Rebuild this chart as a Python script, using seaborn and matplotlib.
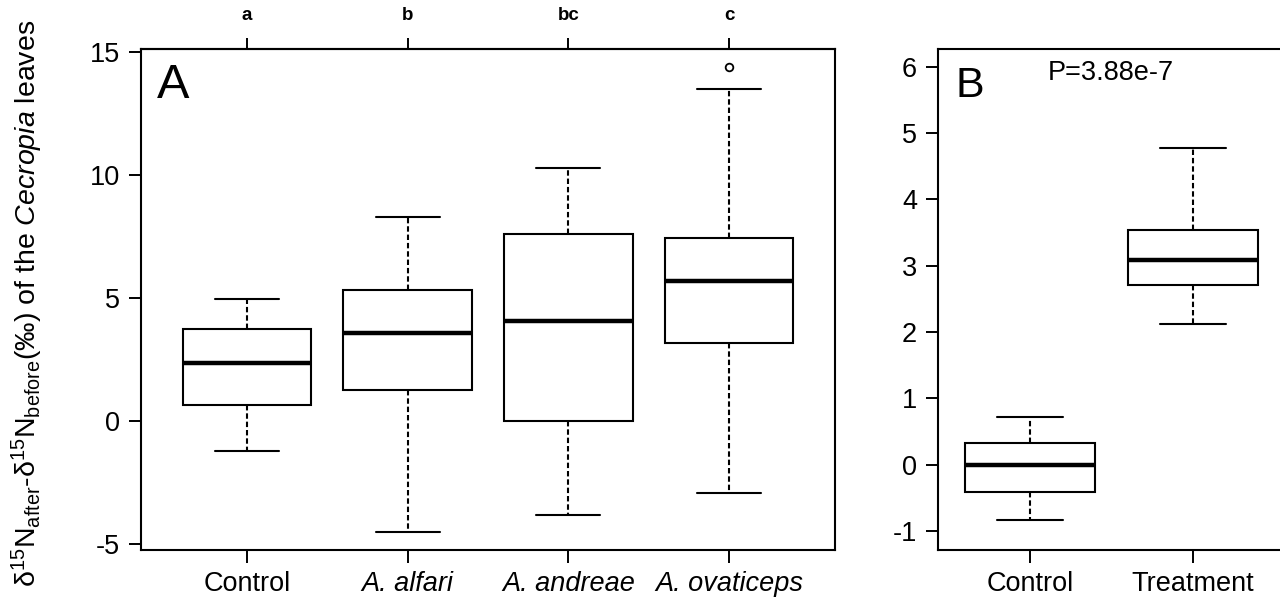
import pandas as pd
import matplotlib
matplotlib.use("Agg")
import matplotlib.pyplot as plt
import seaborn as sns

# panel A: five-number summaries
groups_a = ["Control", "A. alfari", "A. andreae", "A. ovaticeps"]
lower_a = [-1.22, -4.51, -3.82, -2.93]
q1_a = [0.65, 1.26, 0.00, 3.17]
median_a = [2.34, 3.58, 4.07, 5.69]
q3_a = [3.74, 5.33, 7.62, 7.44]
upper_a = [4.96, 8.29, 10.28, 13.50]
outliers_a = [[], [], [], [14.39]]
letters_a = ["a", "b", "bc", "c"]

# panel B
groups_b = ["Control", "Treatment"]
lower_b = [-0.83, 2.12]
q1_b = [-0.42, 2.71]
median_b = [0.00, 3.09]
q3_b = [0.32, 3.54]
upper_b = [0.72, 4.78]
outliers_b = [[], []]
p_text = "P=3.88e-7"

ylabel = (r"δ$^{15}$N$_{\mathrm{after}}$-δ$^{15}$N$_{\mathrm{before}}$(‰) "
          r"of the $\mathit{Cecropia}$ leaves")


def summary_frame(groups, lo, q1, med, q3, hi, outl):
    # points whose quartiles/whiskers reproduce the summary exactly
    rows = []
    for i, g in enumerate(groups):
        vals = [lo[i], q1[i], q1[i], med[i], med[i], q3[i], q3[i], hi[i]] + outl[i]
        rows += [(g, v) for v in vals]
    return pd.DataFrame(rows, columns=["group", "value"])


df_a = summary_frame(groups_a, lower_a, q1_a, median_a, q3_a, upper_a, outliers_a)
df_b = summary_frame(groups_b, lower_b, q1_b, median_b, q3_b, upper_b, outliers_b)

sns.set_style("ticks")
plt.rcParams["font.family"] = ["Liberation Sans", "DejaVu Sans"]
plt.rcParams["mathtext.fontset"] = "custom"
plt.rcParams["mathtext.rm"] = "Liberation Sans"
plt.rcParams["mathtext.it"] = "Liberation Sans:italic"
plt.rcParams["mathtext.bf"] = "Liberation Sans:bold"
plt.rcParams["axes.unicode_minus"] = False
for key in ["text.color", "axes.edgecolor", "axes.labelcolor",
            "xtick.color", "ytick.color"]:
    plt.rcParams[key] = "black"

box_kws = dict(
    width=0.8, color="white", linecolor="black", linewidth=1.5, whis=1.5,
    whiskerprops=dict(linestyle=(0, (2.6, 1.4))),
    medianprops=dict(linewidth=3.2),
    flierprops=dict(marker="o", markersize=5.5, markerfacecolor="none",
                    markeredgecolor="black", markeredgewidth=1.3),
)

fig = plt.figure(figsize=(12.8, 5.99), dpi=100)
ax_a = fig.add_axes([141 / 1280, 1 - 550 / 599, (835 - 141) / 1280, 501 / 599])
ax_b = fig.add_axes([938 / 1280, 1 - 550 / 599, (1285 - 938) / 1280, 501 / 599])

sns.boxplot(data=df_a, x="group", y="value", ax=ax_a, **box_kws)
sns.boxplot(data=df_b, x="group", y="value", ax=ax_b, **box_kws)

for ax in (ax_a, ax_b):
    for s in ax.spines.values():
        s.set_linewidth(1.5)
        s.set_visible(True)
    ax.set_xlabel("")
    ax.set_ylabel("")
    ax.tick_params(axis="both", length=9, width=1.4, labelsize=19.5, pad=6)
    ax.tick_params(axis="x", pad=6)

ax_a.set_xlim(-0.66, 3.66)
ax_a.set_ylim(-5.24, 15.12)
ax_a.set_yticks([-5, 0, 5, 10, 15])
ax_a.set_xticks(range(len(groups_a)), groups_a)
for lab in ax_a.get_xticklabels()[1:]:
    lab.set_fontstyle("italic")

top = ax_a.secondary_xaxis("top")
top.set_xticks(range(len(letters_a)), letters_a)
top.tick_params(length=8, width=1.4, pad=10, labelsize=13.5)
for lab in top.get_xticklabels():
    lab.set_fontweight("bold")
    lab.set_family(["Liberation Sans Narrow", "Liberation Sans"])
top.spines["top"].set_linewidth(1.5)

ax_b.set_xlim(-0.564, 1.564)
ax_b.set_ylim(-1.29, 6.27)
ax_b.set_yticks(range(-1, 7))
ax_b.set_xticks(range(len(groups_b)), groups_b)

ax_a.text(0.023, 0.902, "A", transform=ax_a.transAxes, fontsize=35,
          ha="left", va="baseline")
ax_b.text(0.049, 0.904, "B", transform=ax_b.transAxes, fontsize=31,
          ha="left", va="baseline")
ax_b.text(0.4986, 0.938, p_text, transform=ax_b.transAxes, fontsize=19.5,
          ha="center", va="baseline")

fig.text(27 / 1280, 1 - 303 / 599, ylabel, rotation=90, fontsize=20.5,
         ha="center", va="center")

fig.savefig("out.png", dpi=100)
